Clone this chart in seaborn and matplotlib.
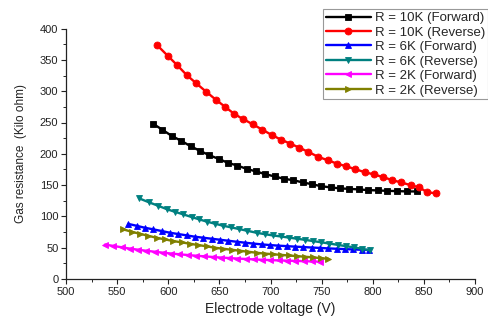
import matplotlib
matplotlib.use("Agg")
import matplotlib.pyplot as plt
import seaborn as sns
from matplotlib.ticker import MultipleLocator

# ---- data ----
labels = ["R = 10K (Forward)", "R = 10K (Reverse)", "R = 6K (Forward)",
          "R = 6K (Reverse)", "R = 2K (Forward)", "R = 2K (Reverse)"]

x_10k_fwd = [584.8, 593.9, 603.4, 612.8, 621.9, 631.1, 640.1, 649.3, 658.4, 667.5,
             676.7, 685.8, 694.9, 704.1, 713.2, 722.3, 731.6, 740.3, 749.4, 758.9,
             768.0, 777.1, 786.3, 795.7, 804.8, 814.2, 824.0, 833.8, 842.9]
y_10k_fwd = [248.3, 238.8, 228.6, 220.6, 212.1, 204.6, 197.8, 191.9, 185.5, 181.3,
             175.9, 171.8, 167.5, 163.8, 160.0, 157.9, 154.2, 151.5, 148.3, 146.3,
             144.7, 144.0, 143.1, 142.0, 141.5, 140.8, 140.4, 139.9, 139.9]

x_10k_rev = [589.3, 599.8, 608.9, 618.3, 627.4, 636.9, 646.4, 655.8, 664.6, 673.4,
             682.6, 691.7, 701.2, 710.0, 719.1, 727.9, 737.0, 746.7, 755.9, 764.7,
             773.8, 782.9, 792.1, 801.2, 810.3, 819.1, 827.9, 837.1, 845.5, 853.1, 861.9]
y_10k_rev = [373.2, 356.1, 341.3, 325.4, 312.6, 299.4, 286.6, 274.8, 263.6, 255.3,
             247.2, 238.8, 230.1, 222.8, 216.4, 210.0, 203.0, 195.1, 189.8, 184.5,
             180.2, 175.4, 170.7, 167.0, 162.7, 157.9, 154.2, 149.9, 146.3, 138.8, 136.7]

x_6k_fwd = [560.9, 569.1, 577.2, 585.4, 593.6, 601.7, 609.8, 618.0, 626.1, 634.3,
            642.5, 650.6, 658.7, 666.9, 675.0, 683.2, 691.3, 699.5, 707.6, 715.8,
            723.9, 732.1, 740.2, 748.4, 756.5, 764.7, 772.8, 781.0, 789.1, 796.5]
y_6k_fwd = [88.0, 85.0, 81.8, 79.3, 76.6, 73.9, 71.8, 69.7, 67.5, 65.9,
            64.3, 62.7, 61.1, 59.5, 58.0, 56.6, 55.3, 54.2, 53.3, 52.5,
            51.7, 51.0, 50.3, 49.6, 48.9, 48.3, 47.7, 47.2, 46.7, 46.3]

x_6k_rev = [571.7, 581.5, 590.3, 598.5, 606.6, 614.8, 623.0, 630.4, 638.3, 646.1,
            653.9, 661.7, 669.6, 677.4, 686.6, 694.5, 702.4, 710.3, 718.2, 726.1,
            734.0, 741.9, 749.8, 757.7, 765.6, 773.5, 781.4, 789.3, 797.2]
y_6k_rev = [128.7, 122.3, 116.9, 111.6, 107.3, 103.2, 98.9, 95.2, 91.4, 88.2,
            85.0, 82.4, 79.7, 77.0, 73.8, 71.6, 69.6, 67.9, 66.1, 64.3,
            62.5, 60.5, 58.6, 56.6, 54.6, 52.5, 50.6, 48.3, 45.8]

x_2k_fwd = [538.1, 546.2, 554.3, 562.4, 570.5, 578.6, 586.6, 594.7, 602.8, 610.9,
            619.0, 627.1, 635.2, 643.3, 651.4, 659.5, 667.5, 675.6, 683.7, 691.8,
            699.9, 708.0, 716.1, 724.2, 732.3, 740.3, 748.4]
y_2k_fwd = [55.0, 52.9, 50.7, 48.6, 46.8, 45.1, 43.6, 42.1, 40.7, 39.5,
            38.3, 37.2, 36.2, 35.2, 34.3, 33.5, 32.7, 32.0, 31.3, 30.7,
            30.2, 29.7, 29.3, 28.9, 28.5, 28.1, 27.7]

x_2k_rev = [556.0, 564.3, 572.4, 580.5, 588.7, 596.8, 604.9, 613.2, 621.3, 629.4,
            637.6, 645.7, 653.8, 662.0, 670.2, 678.3, 686.5, 694.3, 702.1, 709.9,
            717.7, 725.5, 733.3, 741.1, 748.9, 756.5]
y_2k_rev = [79.3, 75.4, 72.2, 69.0, 65.8, 63.3, 60.6, 58.5, 56.3, 54.2,
            52.2, 49.9, 48.3, 46.7, 45.1, 43.5, 41.9, 40.6, 39.6, 38.6,
            37.6, 36.6, 35.6, 34.6, 33.4, 32.2]

series = [(x_10k_fwd, y_10k_fwd), (x_10k_rev, y_10k_rev), (x_6k_fwd, y_6k_fwd),
          (x_6k_rev, y_6k_rev), (x_2k_fwd, y_2k_fwd), (x_2k_rev, y_2k_rev)]
colors = ["#000000", "#ff0000", "#0000ff", "#008080", "#ff00ff", "#808000"]
markers = ["s", "o", "^", "v", "<", ">"]
msizes = [4.3, 5.0, 4.8, 4.8, 4.8, 4.8]

# ---- style ----
sns.set_style("ticks")
plt.rcParams["font.family"] = ["Liberation Sans", "DejaVu Sans"]

fig = plt.figure(figsize=(4.88, 3.20), dpi=100)
ax = fig.add_axes([66 / 488, 1 - 279 / 320, (475 - 66) / 488, (279 - 28.6) / 320])

for (xs, ys), lab, c, m, ms in zip(series, labels, colors, markers, msizes):
    sns.lineplot(x=xs, y=ys, ax=ax, color=c, marker=m, markersize=ms,
                 markeredgewidth=0.6, markeredgecolor=c, linewidth=1.7,
                 label=lab, sort=False)

ax.set_xlim(500, 900)
ax.set_ylim(0, 400)
ax.xaxis.set_major_locator(MultipleLocator(50))
ax.xaxis.set_minor_locator(MultipleLocator(25))
ax.yaxis.set_major_locator(MultipleLocator(50))
ax.yaxis.set_minor_locator(MultipleLocator(25))
ax.tick_params(which="major", direction="out", length=3.5, width=0.8,
               labelsize=8, colors="#222222", pad=2)
ax.tick_params(which="minor", direction="out", length=2, width=0.7)
for s in ["top", "right"]:
    ax.spines[s].set_visible(False)
for s in ["left", "bottom"]:
    ax.spines[s].set_linewidth(0.9)
    ax.spines[s].set_color("#222222")

ax.set_xlabel("Electrode voltage (V)", fontsize=10, color="#222222", labelpad=4)
ax.set_ylabel("Gas resistance  (Kilo ohm)", fontsize=8.5, color="#222222", labelpad=9)

leg = ax.legend(loc="upper right", bbox_to_anchor=(1.0, 1 - 9 / 320),
                bbox_transform=fig.transFigure, fontsize=9.5, frameon=True,
                fancybox=False, edgecolor="#999999", framealpha=1,
                handlelength=3.4, handletextpad=0.3, labelspacing=0.17,
                borderpad=0.22, borderaxespad=0)
leg.get_frame().set_linewidth(0.8)

fig.savefig("out.png", dpi=100)
